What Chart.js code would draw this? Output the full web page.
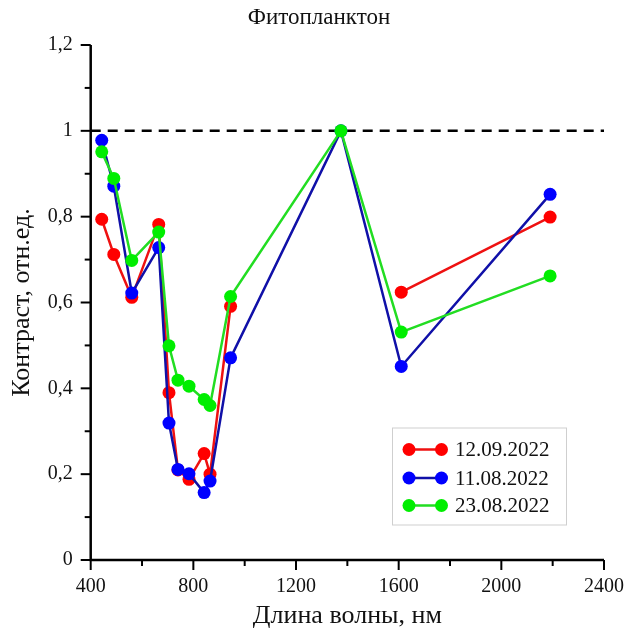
<!DOCTYPE html>
<html>
<head>
<meta charset="utf-8">
<script src="https://cdn.jsdelivr.net/npm/chart.js@4.4.1/dist/chart.umd.min.js"></script>
<style>
html,body{margin:0;padding:0;background:#fff;}
#wrap{width:631px;height:632px;position:relative;}
</style>
</head>
<body>
<div id="wrap"><canvas id="c" width="631" height="632"></canvas></div>
<script>
const wavelengths = [443, 490, 560, 665, 705, 740, 783, 842, 865, 945, 1375, 1610, 2190];
const series1 = [0.794, 0.712, 0.612, 0.782, 0.390, 0.210, 0.188, 0.248, 0.200, 0.591, null, 0.624, 0.799];
const series2 = [0.978, 0.871, 0.622, 0.728, 0.319, 0.211, 0.201, 0.157, 0.184, 0.471, 1.000, 0.451, 0.852];
const series3 = [0.951, 0.889, 0.698, 0.764, 0.499, 0.419, 0.405, 0.374, 0.360, 0.614, 1.000, 0.531, 0.662];
const seriesLabels = ['12.09.2022', '11.08.2022', '23.08.2022'];
const chartTitle = 'Фитопланктон';
const refLevel = 1;
const xTicks = [400, 800, 1200, 1600, 2000, 2400];
const yTicks = [0, 0.2, 0.4, 0.6, 0.8, 1, 1.2];

const FONT = "'Liberation Serif', 'Times New Roman', serif";
const pts = arr => wavelengths.map((x, i) => ({x: x, y: arr[i]}));

const styles = [
  {line: '#ee1111', point: '#ff0000', order: 3},
  {line: '#1010a8', point: '#0000ff', order: 2},
  {line: '#22dd22', point: '#00ee00', order: 1}
];
const seriesData = [series1, series2, series3];

const datasets = seriesData.map((s, i) => ({
  label: seriesLabels[i],
  data: pts(s),
  borderColor: styles[i].line,
  backgroundColor: styles[i].point,
  pointBackgroundColor: styles[i].point,
  pointBorderColor: styles[i].point,
  borderWidth: 2.5,
  pointRadius: 6.5,
  pointBorderWidth: 0,
  spanGaps: false,
  order: styles[i].order,
  tension: 0
}));
datasets.push({
  label: 'ref',
  data: [{x: xTicks[0], y: refLevel}, {x: xTicks[xTicks.length - 1], y: refLevel}],
  borderColor: '#000',
  borderWidth: 2.5,
  borderDash: [10, 7],
  pointRadius: 0,
  order: 10
});

const tickPlugin = {
  id: 'tickPlugin',
  afterDraw(chart) {
    const ctx = chart.ctx;
    const xs = chart.scales.x, ys = chart.scales.y;
    const ca = chart.chartArea;
    ctx.save();
    ctx.fillStyle = '#111';
    ctx.font = '23px ' + FONT;
    ctx.textAlign = 'center';
    ctx.textBaseline = 'middle';
    ctx.fillText(chartTitle, 319, 18);

    ctx.strokeStyle = '#000';
    ctx.lineWidth = 2;
    for (let v = 400; v <= 2400; v += 200) {
      const px = xs.getPixelForValue(v);
      const len = (v % 400 === 0) ? 10 : 6;
      ctx.beginPath(); ctx.moveTo(px, ca.bottom); ctx.lineTo(px, ca.bottom + len); ctx.stroke();
    }
    for (let k = 0; k <= 12; k++) {
      const v = k / 10;
      const py = ys.getPixelForValue(v);
      const len = (k % 2 === 0) ? 10 : 6;
      ctx.beginPath(); ctx.moveTo(ca.left, py); ctx.lineTo(ca.left - len, py); ctx.stroke();
    }
    ctx.lineWidth = 2.5;
    ctx.beginPath();
    ctx.moveTo(ca.left, ys.getPixelForValue(1.2));
    ctx.lineTo(ca.left, ca.bottom);
    ctx.lineTo(xs.getPixelForValue(2400), ca.bottom);
    ctx.stroke();

    const bx = 392.5, by = 428, bw = 174, bh = 97;
    ctx.lineWidth = 1;
    ctx.strokeStyle = '#cfcfcf';
    ctx.fillStyle = '#fff';
    ctx.fillRect(bx, by, bw, bh);
    ctx.strokeRect(bx, by, bw, bh);
    const rows = [449.5, 478, 505.5];
    chart.data.datasets.slice(0, 3).forEach((ds, i) => {
      const y = rows[i];
      ctx.strokeStyle = ds.borderColor;
      ctx.lineWidth = 2.5;
      ctx.beginPath(); ctx.moveTo(409, y); ctx.lineTo(441.5, y); ctx.stroke();
      ctx.fillStyle = ds.pointBackgroundColor;
      [409, 441.5].forEach(cx => { ctx.beginPath(); ctx.arc(cx, y, 6.5, 0, Math.PI * 2); ctx.fill(); });
      ctx.fillStyle = '#111';
      ctx.font = '21px ' + FONT;
      ctx.textBaseline = 'middle';
      ctx.textAlign = 'left';
      ctx.fillText(ds.label, 455, y + 1);
    });
    ctx.restore();
  }
};

new Chart(document.getElementById('c'), {
  type: 'line',
  data: {datasets: datasets},
  options: {
    responsive: false,
    animation: false,
    layout: {padding: {left: 0, right: 27, top: 45, bottom: 0}},
    plugins: {
      legend: {display: false},
      tooltip: {enabled: false},
      title: {display: false}
    },
    scales: {
      x: {
        type: 'linear',
        min: 400, max: 2400,
        border: {display: false},
        grid: {display: false, drawTicks: false},
        afterBuildTicks(scale) { scale.ticks = xTicks.map(v => ({value: v})); },
        ticks: {
          color: '#111',
          padding: 15,
          font: {family: FONT, size: 20},
          callback: v => String(v)
        },
        title: {
          display: true,
          text: 'Длина волны, нм',
          color: '#111',
          font: {family: FONT, size: 26},
          padding: {top: 0, bottom: 0}
        },
        afterFit(scale) { scale.height = 72; scale.paddingRight = 0; scale.paddingLeft = 0; }
      },
      y: {
        type: 'linear',
        min: 0, max: 1.2,
        border: {display: false},
        grid: {display: false, drawTicks: false},
        afterBuildTicks(scale) { scale.ticks = yTicks.map(v => ({value: v})); },
        ticks: {
          color: '#111',
          padding: 18,
          font: {family: FONT, size: 20},
          callback: v => String(Math.round(v * 10) / 10).replace('.', ',')
        },
        title: {
          display: true,
          text: 'Контраст, отн.ед.',
          color: '#111',
          font: {family: FONT, size: 26},
          padding: {top: 7, bottom: 0}
        },
        afterFit(scale) { scale.width = 90.7; scale.paddingTop = 0; scale.paddingBottom = 0; }
      }
    }
  },
  plugins: [tickPlugin]
});
</script>
</body>
</html>
